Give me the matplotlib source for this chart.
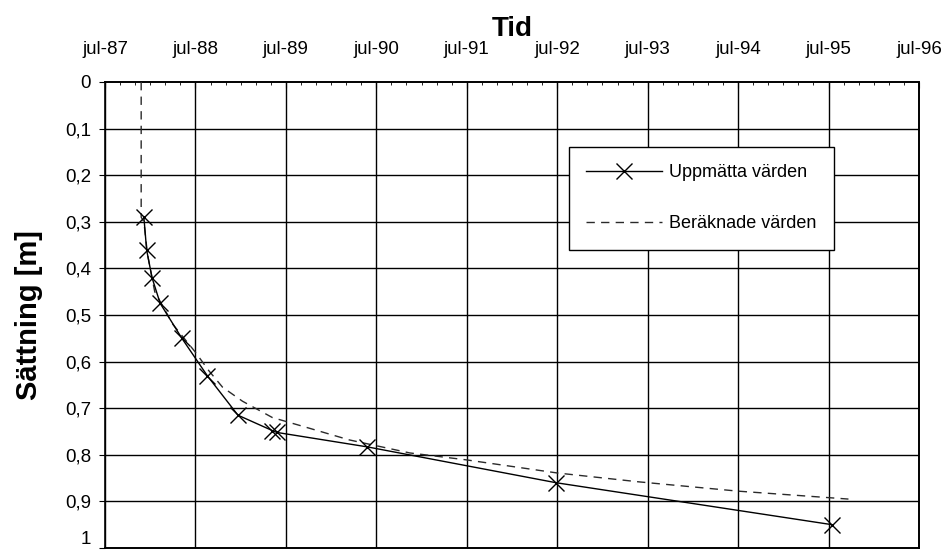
import matplotlib
matplotlib.use("Agg")
import matplotlib.pyplot as plt
from matplotlib.ticker import MultipleLocator

plt.rcParams['font.family'] = ['Liberation Sans', 'DejaVu Sans']

# time in years after jul-87
tick_labels = ["jul-87", "jul-88", "jul-89", "jul-90", "jul-91", "jul-92",
               "jul-93", "jul-94", "jul-95", "jul-96"]
y_labels = ["0", "0,1", "0,2", "0,3", "0,4", "0,5", "0,6", "0,7", "0,8", "0,9", "1"]

# Uppmätta värden
meas_t = [0.43, 0.46, 0.52, 0.61, 0.85, 1.13, 1.47, 1.85, 1.90, 2.90, 4.99, 8.04]
meas_s = [0.29, 0.36, 0.42, 0.475, 0.55, 0.63, 0.715, 0.748, 0.752, 0.783, 0.86, 0.95]

# Beräknade värden
calc_t = [0.40, 0.40, 0.43, 0.47, 0.55, 0.75, 1.00, 1.15, 1.30, 1.52, 1.85, 2.26,
          2.70, 3.37, 4.00, 5.00, 5.90, 7.00, 8.22]
calc_s = [0.0, 0.29, 0.30, 0.37, 0.45, 0.52, 0.58, 0.62, 0.655, 0.685, 0.72, 0.743,
          0.768, 0.796, 0.811, 0.839, 0.858, 0.878, 0.895]

fig = plt.figure(figsize=(9.44, 5.52), dpi=100)
ax = fig.add_axes([105/944, 1 - 548/552, (919 - 105)/944, (548 - 82)/552])

ax.plot(calc_t, calc_s, color='#2a2a2a', linestyle=(0, (6, 4.5)), linewidth=1.0,
        label="Beräknade värden", zorder=3)
ax.plot(meas_t, meas_s, color='black', linewidth=1.0, marker='x', markersize=11,
        markeredgewidth=1.0, label="Uppmätta värden", zorder=4)

ax.set_xlim(0, 9)
ax.set_ylim(1, 0)
ax.set_xticks(range(10))
ax.set_xticklabels(tick_labels)
ax.set_yticks([i / 10 for i in range(11)])
ax.set_yticklabels(y_labels)
ax.xaxis.tick_top()
ax.xaxis.set_label_position('top')
ax.xaxis.set_minor_locator(MultipleLocator(1/6))
ax.tick_params(axis='x', which='major', length=4, direction='in', labelsize=13.5, pad=17)
ax.tick_params(axis='x', which='minor', length=2, direction='in')
ax.tick_params(axis='y', length=4, direction='out', labelsize=13.5, pad=6)
ax.get_yticklabels()[-1].set_verticalalignment('bottom')

ax.grid(True, which='major', color='black', linewidth=1.0)
# edges of the plot area are dotted, so no grid line on them
ax.xaxis.get_gridlines()[-1].set_visible(False)
ax.yaxis.get_gridlines()[0].set_visible(False)
ax.yaxis.get_gridlines()[-1].set_visible(False)
for side in ['top', 'right', 'bottom']:
    ax.spines[side].set_linestyle((0, (1, 1)))
    ax.spines[side].set_linewidth(1.4)
ax.spines['left'].set_linewidth(1.2)

ax.set_xlabel("Tid", fontsize=20, fontweight='bold', labelpad=4)
ax.set_ylabel("Sättning [m]", fontsize=21, fontweight='bold', labelpad=16)

handles, labels = ax.get_legend_handles_labels()
leg = ax.legend(handles[::-1], labels[::-1], loc='upper left',
                bbox_to_anchor=((569 - 105)/814, 1 - (147 - 82)/466),
                fontsize=13, frameon=True, fancybox=False, framealpha=1,
                edgecolor='black', handlelength=4.2, labelspacing=1.9,
                borderpad=0.95, handletextpad=0.4, borderaxespad=0)
leg.get_frame().set_linewidth(1.0)

fig.savefig("out.png", dpi=100)
